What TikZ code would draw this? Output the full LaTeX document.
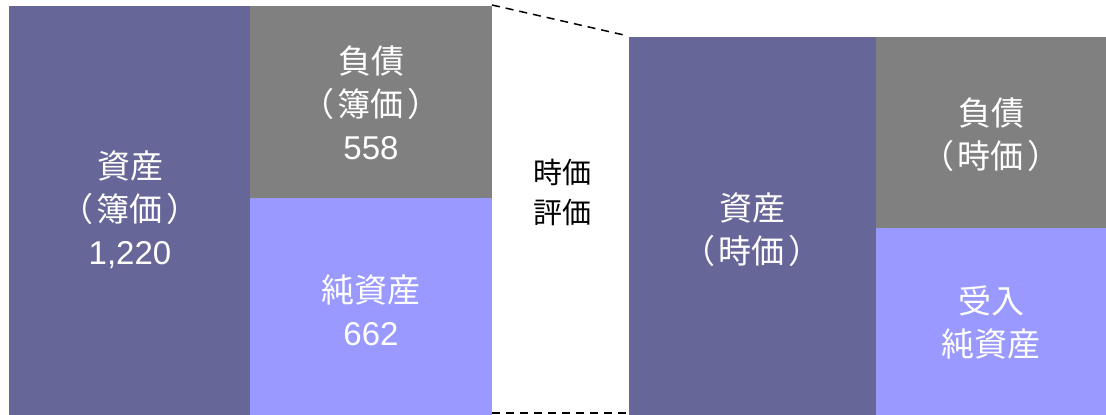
\documentclass[tikz,border=0pt]{standalone}
\usepackage{fontspec}
\setmainfont{Liberation Sans}
\newfontfamily\jp[RawFeature=+palt]{Noto Sans CJK JP}
\newcommand{\pp}[1]{（\kern5pt #1\kern5pt ）}
\definecolor{darkp}{HTML}{666699}
\definecolor{greyb}{HTML}{808080}
\definecolor{lightp}{HTML}{9999FF}
\begin{document}
\begin{tikzpicture}[x=1pt,y=-1pt,
  lbl/.style={text=white,align=center,font=\fontsize{33}{43}\selectfont},
  mid/.style={text=black,align=center,font=\fontsize{29}{40}\selectfont},
  dashline/.style={line width=1.5pt,dash pattern=on 8pt off 6pt}]
\useasboundingbox (0,0) rectangle (1106,415);
\fill[darkp] (9,6) rectangle (250,415);
\fill[greyb] (250,6) rectangle (492,198);
\fill[lightp] (250,198) rectangle (492,415);
\fill[darkp] (629,37) rectangle (876,415);
\fill[greyb] (876,37) rectangle (1106,228);
\fill[lightp] (876,228) rectangle (1106,415);
\coordinate (t1) at (492,5);
\coordinate (t2) at (624,35);
\coordinate (b1) at (492,413);
\coordinate (b2) at (629,413);
\draw[dashline] (t1) -- (t2);
\draw[dashline] (b1) -- (b2);
\node[lbl] (a1) at (130,210) {{\jp 資産}\\{\jp \pp{簿価}}\\1,220};
\node[lbl] (l1) at (371,103) {{\jp 負債}\\{\jp \pp{簿価}}\\558};
\node[lbl] (n1) at (371,310) {{\jp 純資産}\\662};
\node[mid] (m) at (562,192) {{\jp 時価}\\{\jp 評価}};
\node[lbl] (a2) at (752,230) {{\jp 資産}\\{\jp \pp{時価}}};
\node[lbl] (l2) at (991,135) {{\jp 負債}\\{\jp \pp{時価}}};
\node[lbl] (n2) at (991,322) {{\jp 受入}\\{\jp 純資産}};
\end{tikzpicture}
\end{document}
